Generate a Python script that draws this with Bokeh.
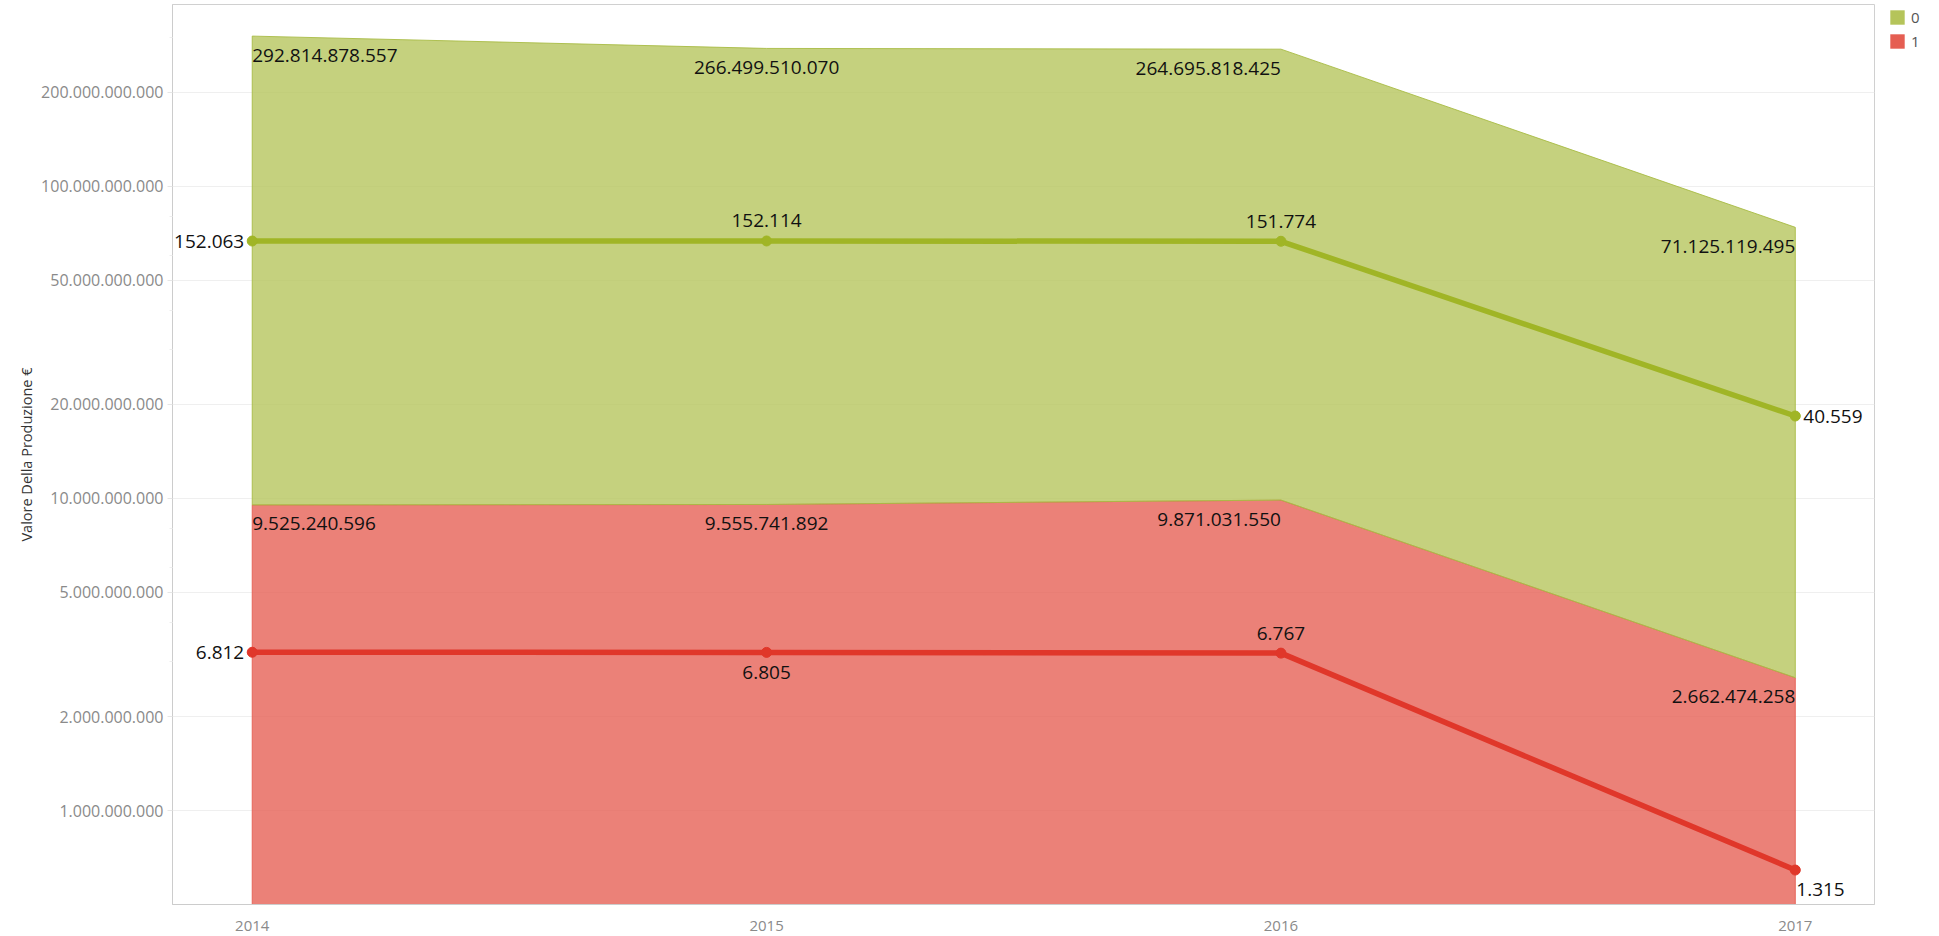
from bokeh.plotting import figure
from bokeh.models import (ColumnDataSource, Range1d, LogScale, FixedTicker,
                          CustomJSTickFormatter, Legend, LegendItem)
from bokeh.core.properties import value
from bokeh.embed import file_html
from bokeh.resources import INLINE

# ---------------- data ----------------
years = [2014, 2015, 2016, 2017]
series = ["0", "1"]
valore_0 = [292814878557, 266499510070, 264695818425, 71125119495]   # area, stacked on top
valore_1 = [9525240596, 9555741892, 9871031550, 2662474258]          # area, bottom
conteggio_0 = [152063, 152114, 151774, 40559]                        # line (secondary scale)
conteggio_1 = [6812, 6805, 6767, 1315]
y_ticks = [1e9, 2e9, 5e9, 1e10, 2e10, 5e10, 1e11, 2e11]
y_minor = [3e9, 4e9, 6e9, 8e9, 3e10, 4e10, 6e10, 8e10, 3e11]
y_title = "Valore Della Produzione €"

# ---------------- styles ----------------
FONT = "Open Sans"
C0, C1 = "#b5c45a", "#e55e52"           # legend / area base colours
L0, L1 = "#a0b526", "#e0372a"           # line colours
FILL_ALPHA = 0.78

def it_fmt(v):
    return f"{v:,}".replace(",", ".")

top_0 = [a + b for a, b in zip(valore_0, valore_1)]
baseline = [1.0] * len(years)

p = figure(frame_width=1702, frame_height=900,
           x_range=Range1d(2013.845, 2017.154),
           y_range=Range1d(5.0e8, 3.817e11), y_axis_type="log",
           output_backend="svg", toolbar_location=None,
           min_border_left=172, min_border_right=10,
           min_border_top=4, min_border_bottom=30)
p.extra_y_ranges = {"cnt": Range1d(1013.7, 907400)}
p.extra_y_scales = {"cnt": LogScale()}

p.background_fill_color = "white"
p.border_fill_color = "white"
p.outline_line_color = "#d0d0d0"

# areas (red first, green stacked above)
p.patch(x=years + years[::-1], y=valore_1 + baseline[::-1],
        fill_color=C1, fill_alpha=FILL_ALPHA, line_color=C1, line_alpha=0.9, line_width=1)
p.patch(x=years + years[::-1], y=top_0 + valore_1[::-1],
        fill_color=C0, fill_alpha=FILL_ALPHA, line_color="#a9bb45", line_alpha=0.9, line_width=1)

# lines on secondary log scale
p.line(years, conteggio_0, y_range_name="cnt", line_color=L0, line_width=5.5)
p.scatter(years, conteggio_0, y_range_name="cnt", size=10, color=L0)
p.line(years, conteggio_1, y_range_name="cnt", line_color=L1, line_width=5.5)
p.scatter(years, conteggio_1, y_range_name="cnt", size=10, color=L1)

# area labels
area_align = ["left", "center", "right", "right"]
src_area = ColumnDataSource(dict(
    x=years + years, y=top_0 + valore_1,
    text=[it_fmt(v) for v in valore_0 + valore_1],
    align=area_align * 2))
p.text(x="x", y="y", text="text", source=src_area, text_align="align",
       text_baseline="middle", y_offset=19, text_font=value(FONT),
       text_font_size="19px", text_color="#111111")

# line labels
lab_align = ["right", "center", "center", "left"]
dx0, dy0 = [-8, 0, 0, 8], [0, -20, -20, 0]
dx1, dy1 = [-8, 0, 0, 1], [0, 20, -20, 19]
src_l0 = ColumnDataSource(dict(x=years, y=conteggio_0, text=[it_fmt(v) for v in conteggio_0],
                               align=lab_align, dx=dx0, dy=dy0))
src_l1 = ColumnDataSource(dict(x=years, y=conteggio_1, text=[it_fmt(v) for v in conteggio_1],
                               align=lab_align, dx=dx1, dy=dy1))
for s in (src_l0, src_l1):
    p.text(x="x", y="y", text="text", source=s, y_range_name="cnt",
           text_align="align", x_offset="dx", y_offset="dy", text_baseline="middle",
           text_font=value(FONT), text_font_size="19px", text_color="#111111")

# axes
p.yaxis.ticker = FixedTicker(ticks=y_ticks, minor_ticks=y_minor)
p.yaxis.formatter = CustomJSTickFormatter(
    code=r"return Math.round(tick).toString().replace(/\B(?=(\d{3})+(?!\d))/g, '.');")
p.yaxis.axis_line_color = "#cccccc"
p.yaxis.major_tick_out = 5
p.yaxis.major_tick_in = 0
p.yaxis.major_tick_line_color = "#e6e6e6"
p.yaxis.minor_tick_out = 3
p.yaxis.minor_tick_in = 0
p.yaxis.minor_tick_line_color = "#eeeeee"
p.yaxis.major_label_standoff = 4
p.yaxis.major_label_text_font = FONT
p.yaxis.major_label_text_font_size = "16px"
p.yaxis.major_label_text_color = "#8a8a8a"
p.yaxis.axis_label = y_title
p.yaxis.axis_label_text_font = FONT
p.yaxis.axis_label_text_font_size = "14.5px"
p.yaxis.axis_label_text_font_style = "normal"
p.yaxis.axis_label_text_color = "#333333"
p.yaxis.axis_label_standoff = 2

p.xaxis.ticker = FixedTicker(ticks=years)
p.xaxis.axis_line_color = "#cccccc"
p.xaxis.major_tick_line_color = None
p.xaxis.minor_tick_line_color = None
p.xaxis.major_label_standoff = 10
p.xaxis.major_label_text_font = FONT
p.xaxis.major_label_text_font_size = "15px"
p.xaxis.major_label_text_color = "#8a8a8a"

p.xgrid.visible = False
p.ygrid.grid_line_color = "#efefef"

# legend swatches: zero-size quads (nothing visible in the plot), solid colours for the legend
r_leg0 = p.quad(left=years[:1], right=years[:1], top=valore_1[:1], bottom=valore_1[:1],
                fill_color=C0, line_color=None)
r_leg1 = p.quad(left=years[:1], right=years[:1], top=valore_1[:1], bottom=valore_1[:1],
                fill_color=C1, line_color=None)

# legend to the right of the frame; a blank "left" title pushes the swatches right
legend = Legend(items=[LegendItem(label=series[0], renderers=[r_leg0]),
                       LegendItem(label=series[1], renderers=[r_leg1])],
                location="top_left", glyph_width=18, glyph_height=18, spacing=4,
                label_height=18, label_width=8, padding=0, margin=3,
                title=" ", title_location="left", title_text_font_size="1px",
                title_standoff=10,
                border_line_color=None, background_fill_alpha=0,
                label_text_font=FONT, label_text_font_size="15px",
                label_text_color="#555555", label_standoff=5)
p.add_layout(legend, "right")

open("out.html", "w").write(file_html(p, INLINE))
